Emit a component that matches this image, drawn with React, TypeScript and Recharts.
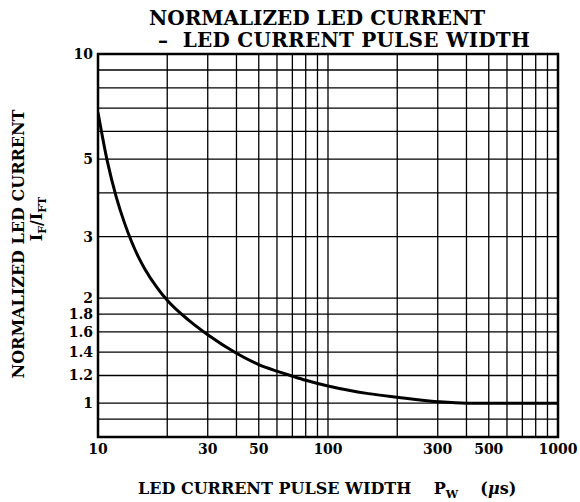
import React from "react";
import {
  LineChart,
  Line,
  XAxis,
  YAxis,
  CartesianGrid,
  ReferenceArea,
} from "recharts";

// pulse width (us) vs normalized LED current IF/IFT
const pulseWidth = [10, 11, 12, 13, 14, 15, 16, 18, 20, 25, 30, 40, 50, 60, 70, 80, 100, 150, 200, 300, 400, 1000];
const currentRatio = [6.8, 4.9, 3.9, 3.3, 2.9, 2.62, 2.42, 2.15, 1.97, 1.72, 1.57, 1.39, 1.29, 1.235, 1.195, 1.163, 1.12, 1.065, 1.04, 1.01, 1.0, 1.0];

const xTicks = [10, 20, 30, 40, 50, 60, 70, 80, 90, 100, 200, 300, 400, 500, 600, 700, 800, 900, 1000];
const xLabels = [10, 30, 50, 100, 300, 500, 1000];
const yTicks = [0.8, 0.9, 1, 1.2, 1.4, 1.6, 1.8, 2, 3, 4, 5, 6, 7, 8, 9, 10];
const yLabels = [1, 1.2, 1.4, 1.6, 1.8, 2, 3, 5, 10];

const data = pulseWidth.map((pw, i) => ({ pw, ratio: currentRatio[i] }));

const FONT = "'DejaVu Serif', serif";
const tickStyle = { fill: "#000", fontSize: 14, fontWeight: 700, fontFamily: FONT };

export default function App() {
  return (
    <div style={{ position: "absolute", left: 0, top: 0, width: 580, height: 502, background: "#fff", fontFamily: FONT, color: "#000" }}>
      <div style={{ position: "absolute", left: 149, top: 6, fontSize: 20, fontWeight: 700, whiteSpace: "nowrap" }}>
        NORMALIZED LED CURRENT
      </div>
      <div style={{ position: "absolute", left: 158, top: 28, fontSize: 20, fontWeight: 700, whiteSpace: "nowrap", letterSpacing: 0.25 }}>
        –&nbsp;&nbsp;LED CURRENT PULSE WIDTH
      </div>

      <LineChart width={580} height={502} data={data} margin={{ top: 54, right: 22, bottom: 35, left: 58 }}>
        <CartesianGrid stroke="#000" strokeWidth={1.3} />
        <XAxis
          dataKey="pw"
          type="number"
          scale="log"
          domain={[10, 1000]}
          ticks={xTicks}
          interval={0}
          allowDataOverflow
          height={30}
          tickLine={false}
          axisLine={false}
          tickSize={0}
          tickMargin={7}
          tick={tickStyle}
          tickFormatter={(v: number) => (xLabels.includes(v) ? String(v) : "")}
        />
        <YAxis
          type="number"
          scale="log"
          domain={[0.8, 10]}
          ticks={yTicks}
          interval={0}
          allowDataOverflow
          width={40}
          tickLine={false}
          axisLine={false}
          tickSize={0}
          tickMargin={5}
          tick={tickStyle}
          tickFormatter={(v: number) => (yLabels.includes(v) ? String(v) : "")}
        />
        <ReferenceArea x1={10} x2={1000} y1={0.8} y2={10} fill="none" stroke="#000" strokeWidth={2.5} />
        <Line
          type="monotone"
          dataKey="ratio"
          stroke="#000"
          strokeWidth={3}
          dot={false}
          isAnimationActive={false}
        />
      </LineChart>

      <div
        style={{
          position: "absolute",
          left: 18,
          top: 244,
          transform: "translate(-50%, -50%) rotate(-90deg)",
          fontSize: 16,
          fontWeight: 700,
          whiteSpace: "nowrap",
        }}
      >
        NORMALIZED LED CURRENT
      </div>
      <div
        style={{
          position: "absolute",
          left: 38,
          top: 219,
          transform: "translate(-50%, -50%) rotate(-90deg)",
          fontSize: 16,
          fontWeight: 700,
          whiteSpace: "nowrap",
        }}
      >
        I<sub style={{ fontSize: 11 }}>F</sub>/I<sub style={{ fontSize: 11 }}>FT</sub>
      </div>

      <div style={{ position: "absolute", left: 138, top: 479, fontSize: 16, fontWeight: 700, whiteSpace: "nowrap" }}>
        LED CURRENT PULSE WIDTH&nbsp;&nbsp;&nbsp;&nbsp;P<sub style={{ fontSize: 11 }}>W</sub>&nbsp;&nbsp;&nbsp;&nbsp;(<i>μ</i>s)
      </div>
    </div>
  );
}
